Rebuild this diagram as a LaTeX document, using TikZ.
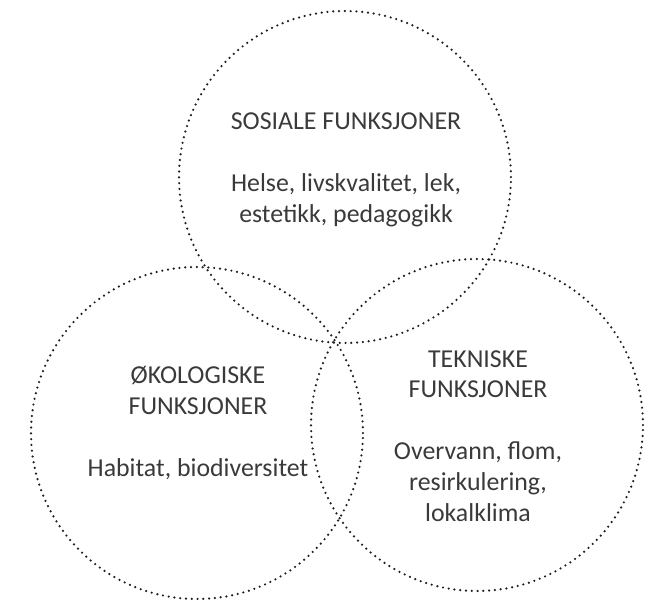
\documentclass[tikz,border=0pt]{standalone}
\usepackage{fontspec}
\setmainfont{Carlito}
\usepackage{tikz}

\definecolor{prikk}{HTML}{1E1E1E}
\definecolor{skrift}{HTML}{3A3A3A}

\begin{document}
\begin{tikzpicture}[x=0.02cm, y=-0.02cm,
    funksjon/.style={
% The shape:
circle,
% The size:
      minimum size=6.64cm, inner sep=0pt,
% The border:
      line width=1.4pt, line cap=round,
      dash pattern=on 0pt off 3.3pt,
      draw=prikk
    },
    merkelapp/.style={
      align=center, text=skrift,
% Font
      font=\fontsize{14.7}{17.6}\selectfont
    }]
  \useasboundingbox (0,0) rectangle (661,600);
  \node [funksjon] (sosial) at (345,177) {};
  \node [funksjon] (okologisk) at (197,433) {};
  \node [funksjon] (teknisk) at (477,425) {};
  \node [merkelapp] (sosialtekst) at (346,170)
    {SOSIALE FUNKSJONER\\[17.6pt]Helse, livskvalitet, lek,\\estetikk, pedagogikk};
  \node [merkelapp] (okologisktekst) at (198,423)
    {ØKOLOGISKE\\FUNKSJONER\\[17.6pt]Habitat, biodiversitet};
  \node [merkelapp] (teknisktekst) at (478,436)
    {TEKNISKE\\FUNKSJONER\\[17.6pt]Overvann, flom,\\resirkulering,\\lokalklima};
\end{tikzpicture}
\end{document}
